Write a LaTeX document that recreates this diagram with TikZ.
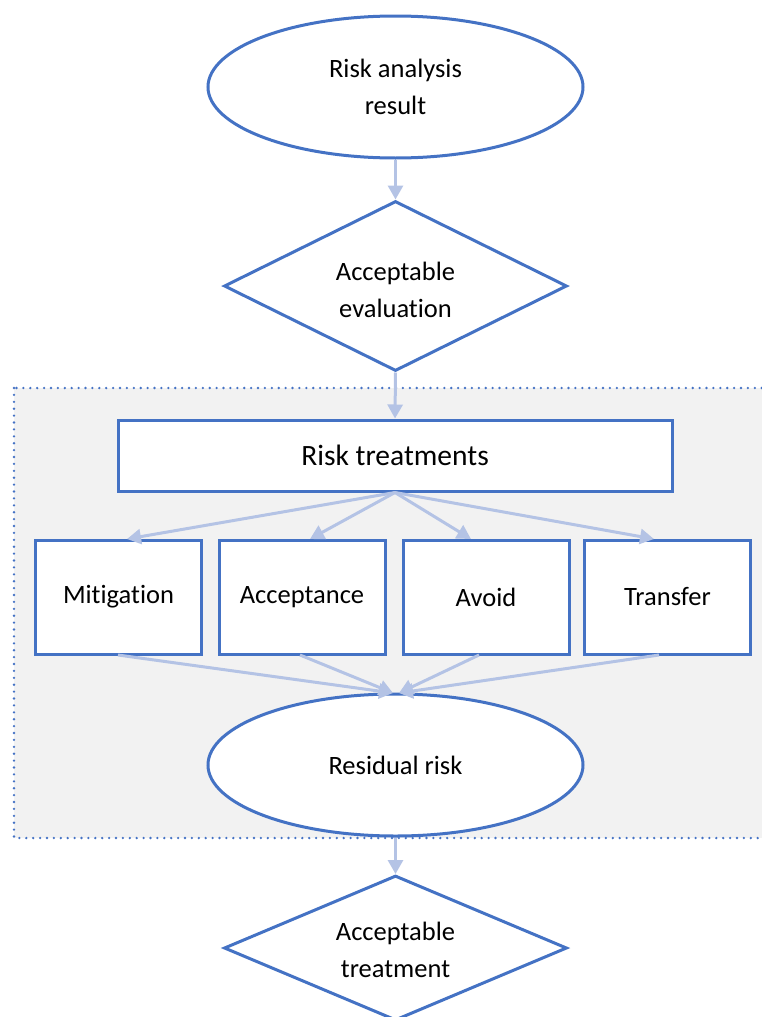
\documentclass[tikz,border=0pt]{standalone}
\usepackage{fontspec}
\setmainfont{Carlito}[Ligatures=NoCommon]
\usetikzlibrary{shapes.geometric,arrows.meta,calc}
\definecolor{shapeblue}{HTML}{4472C4}
\definecolor{arrowblue}{HTML}{B4C3E5}
\definecolor{panel}{HTML}{F2F2F2}
\begin{document}
\begin{tikzpicture}[x=1pt,y=-1pt,
  every node/.style={font=\fontsize{26.5}{37}\selectfont, text=black},
  shp/.style={draw=shapeblue, line width=3pt, fill=white, inner sep=0pt},
  oval/.style={shp, ellipse, minimum width=375pt, minimum height=142pt, align=center},
  dia/.style={shp, diamond, minimum width=343pt, align=center},
  box/.style={shp, rectangle, minimum width=166pt, minimum height=114pt},
  conn/.style={draw=arrowblue, line width=3pt, -{Triangle[length=14pt,width=15pt]}},
]
\useasboundingbox (0,0) rectangle (762,1017);
\clip (0,0) rectangle (762,1017);
% panel
\draw[fill=panel, draw=shapeblue, line width=2.6pt, line cap=round, dash pattern=on 0pt off 6.9pt] (14,388) rectangle (790,838);
% nodes
\node[oval] (e1) at (395.5,87) {Risk analysis\\result};
\node[dia, minimum height=170pt, aspect=2.02,
  label={[yshift=-4pt, align=center]center:{Acceptable\\evaluation}}] (d1) at (395.5,286) {};
\node[shp, rectangle, minimum width=554pt, minimum height=71pt, font=\fontsize{29.5}{34}\selectfont] (rt) at (395,455.5) {Risk treatments};
\node[box] (b1) at (118.5,597) {Mitigation};
\node[box] (b2) at (302,597) {Acceptance};
\node[box] (b3) at (486,597) {Avoid};
\node[box] (b4) at (667.5,597) {Transfer};
\node[oval] (res) at (395.5,765) {Residual risk};
\node[dia, minimum height=145pt, aspect=2.37,
  label={[yshift=-2pt, align=center]center:{Acceptable\\treatment}}] (d2) at (395.5,948) {};
% connector ends
\coordinate (t1) at (127,539);
\coordinate (t2) at (310,539);
\coordinate (t3) at (471,539);
\coordinate (t4) at (654,539);
\coordinate (s1) at (118,655);
\coordinate (s2) at (300,655);
\coordinate (s3) at (479,655);
\coordinate (s4) at (659,655);
\coordinate (rl) at (393,693);
\coordinate (rr) at (399,693);
% connectors
\draw[conn] (e1.south) -- (d1.north);
\draw[conn] (d1.south) -- (rt.north);
\foreach \t in {t1,t2,t3,t4} \draw[conn] (rt.south) -- (\t);
\draw[conn] (s1) -- (rl);
\draw[conn] (s2) -- (rl);
\draw[conn] (s3) -- (rr);
\draw[conn] (s4) -- (rr);
\draw[conn] (res.south) -- (d2.north);
\end{tikzpicture}
\end{document}
